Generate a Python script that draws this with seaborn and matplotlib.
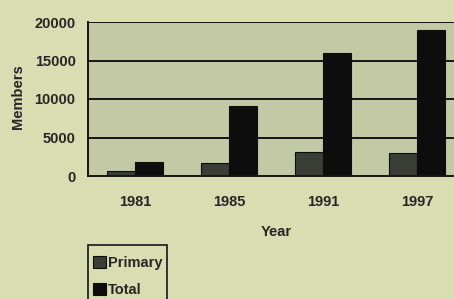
import matplotlib
matplotlib.use("Agg")
import matplotlib.pyplot as plt
from matplotlib.patches import Rectangle
import seaborn as sns
import pandas as pd

years = ["1981", "1985", "1991", "1997"]
primary = [700, 1700, 3100, 3000]
total = [1800, 9100, 16000, 19000]
series = ["Primary", "Total"]
yticks = [0, 5000, 10000, 15000, 20000]

df = pd.DataFrame({
    "Year": years * 2,
    "Members": primary + total,
    "Series": [series[0]] * len(years) + [series[1]] * len(years),
})

sns.set_style("white")
plt.rcParams["font.family"] = ["Liberation Sans", "DejaVu Sans"]
plt.rcParams["font.weight"] = "bold"

fig_bg = "#d9ddb2"
ax_bg = "#c4c9a5"
fs = 10.5

fig = plt.figure(figsize=(4.54, 2.99), dpi=100)
fig.patch.set_facecolor(fig_bg)
ax = fig.add_axes([88 / 454, 123 / 299, 376 / 454, 154 / 299])
ax.set_facecolor(ax_bg)

sns.barplot(data=df, x="Year", y="Members", hue="Series",
            palette={"Primary": "#3b3e36", "Total": "#0d0d0d"},
            width=0.6, gap=0, edgecolor="#0d0d0d", linewidth=0.8,
            ax=ax, legend=True)

ax.set_axisbelow(True)
ax.set_ylim(0, 20000)
ax.set_xlim(-0.5, 3.5)
ax.set_yticks(yticks)
ax.set_yticklabels([str(v) for v in yticks], fontsize=fs, fontweight="bold")
for v in yticks[1:]:
    ax.axhline(v, color="#151515", lw=1.4, zorder=0.5)

ax.set_xticks(range(len(years)))
ax.set_xticklabels(years, fontsize=fs, fontweight="bold")
ax.tick_params(axis="x", length=0, pad=14)
ax.set_xticks([0.5, 1.5, 2.5], minor=True)
ax.tick_params(axis="x", which="minor", direction="inout", length=10, width=1.3, color="#151515")
ax.tick_params(axis="y", direction="out", length=5, width=1.3, color="#151515", pad=4)

for s in ["top", "right"]:
    ax.spines[s].set_visible(False)
for s in ["left", "bottom"]:
    ax.spines[s].set_visible(True)
    ax.spines[s].set_color("#151515")
    ax.spines[s].set_linewidth(1.4)

ax.set_xlabel("Year", fontsize=fs, fontweight="bold", labelpad=11)
ax.set_ylabel("Members", fontsize=fs, fontweight="bold")
ax.yaxis.set_label_coords(-0.168, 0.516)

leg = ax.legend(loc="upper left", bbox_to_anchor=(93 / 454, (299 - 256) / 299),
                bbox_transform=fig.transFigure, frameon=False,
                handlelength=0.9, handleheight=0.85, handletextpad=0.15,
                labelspacing=0.88, borderpad=0, borderaxespad=0,
                prop={"size": fs, "weight": "bold"})

fig.patches.append(Rectangle((88 / 454, -0.1), 79 / 454, (299 - 245) / 299 + 0.1,
                             transform=fig.transFigure, fill=False,
                             edgecolor="#151515", linewidth=1.2))

fig.savefig("out.png", dpi=100, facecolor=fig_bg)
